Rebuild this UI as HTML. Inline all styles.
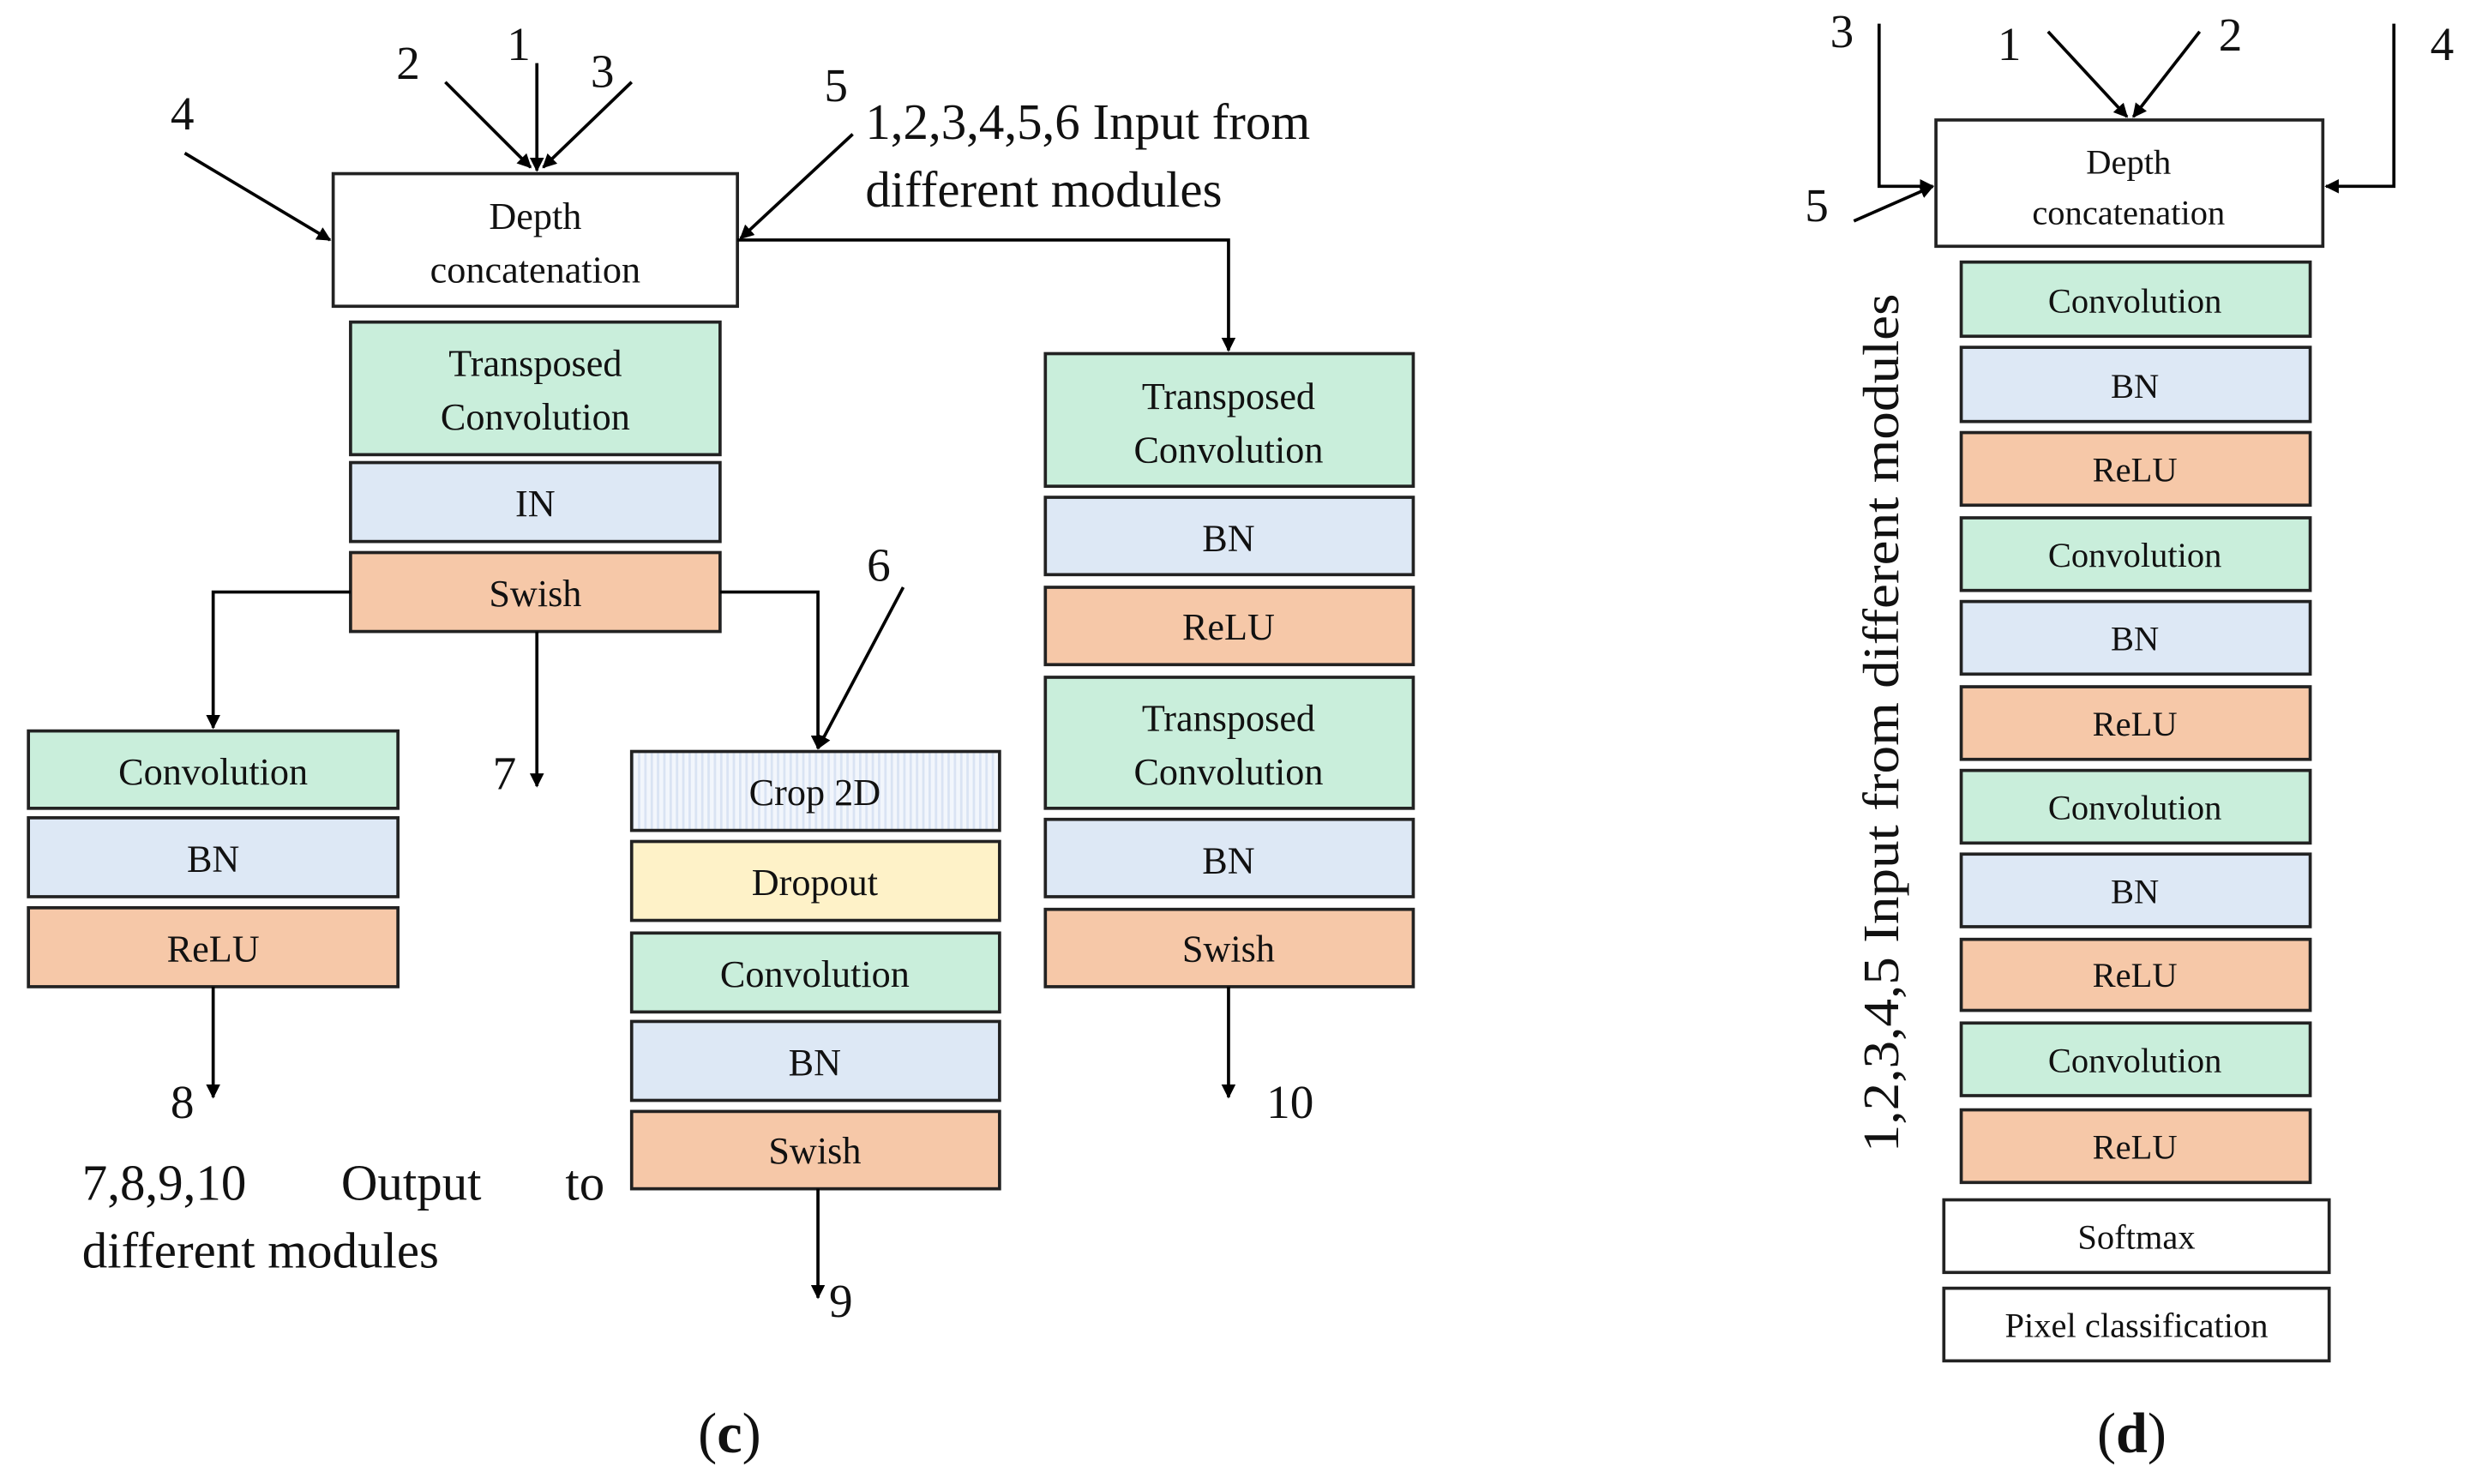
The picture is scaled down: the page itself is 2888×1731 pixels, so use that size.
<!DOCTYPE html>
<html><head><meta charset="utf-8"><style>
html,body{margin:0;padding:0;background:#fff;}
svg{display:block;}
text{font-family:"Liberation Serif","Times New Roman","DejaVu Serif",serif;fill:#111;}
</style></head><body>
<svg width="2888" height="1731" viewBox="0 0 1568 940" preserveAspectRatio="none" xmlns="http://www.w3.org/2000/svg">
<defs>
<marker id="a" viewBox="0 0 10 10" refX="9" refY="5" markerWidth="9" markerHeight="9" markerUnits="userSpaceOnUse" orient="auto"><path d="M0,0 L10,5 L0,10 z" fill="#000"/></marker>
<pattern id="hp" width="4" height="10" patternUnits="userSpaceOnUse"><rect width="4" height="10" fill="#f2f6fc"/><rect width="1.5" height="10" fill="#d9e3f3"/></pattern>
</defs>
<g stroke="#222" stroke-width="2">
<rect x="211" y="110" width="256" height="84" fill="#fff"/>
<rect x="222" y="204" width="234" height="84" fill="#c9eedb"/>
<rect x="222" y="293" width="234" height="50" fill="#dde8f5"/>
<rect x="222" y="350" width="234" height="50" fill="#f6c8a8"/>
<rect x="18" y="463" width="234" height="49" fill="#c9eedb"/>
<rect x="18" y="518" width="234" height="50" fill="#dde8f5"/>
<rect x="18" y="575" width="234" height="50" fill="#f6c8a8"/>
<rect x="400" y="476" width="233" height="50" fill="url(#hp)"/>
<rect x="400" y="533" width="233" height="50" fill="#fef2c8"/>
<rect x="400" y="591" width="233" height="50" fill="#c9eedb"/>
<rect x="400" y="647" width="233" height="50" fill="#dde8f5"/>
<rect x="400" y="704" width="233" height="49" fill="#f6c8a8"/>
<rect x="662" y="224" width="233" height="84" fill="#c9eedb"/>
<rect x="662" y="315" width="233" height="49" fill="#dde8f5"/>
<rect x="662" y="372" width="233" height="49" fill="#f6c8a8"/>
<rect x="662" y="429" width="233" height="83" fill="#c9eedb"/>
<rect x="662" y="519" width="233" height="49" fill="#dde8f5"/>
<rect x="662" y="576" width="233" height="49" fill="#f6c8a8"/>
<rect x="1226" y="76" width="245" height="80" fill="#fff"/>
<rect x="1242" y="166" width="221" height="47" fill="#c9eedb"/>
<rect x="1242" y="220" width="221" height="47" fill="#dde8f5"/>
<rect x="1242" y="274" width="221" height="46" fill="#f6c8a8"/>
<rect x="1242" y="328" width="221" height="46" fill="#c9eedb"/>
<rect x="1242" y="381" width="221" height="46" fill="#dde8f5"/>
<rect x="1242" y="435" width="221" height="46" fill="#f6c8a8"/>
<rect x="1242" y="488" width="221" height="46" fill="#c9eedb"/>
<rect x="1242" y="541" width="221" height="46" fill="#dde8f5"/>
<rect x="1242" y="595" width="221" height="45" fill="#f6c8a8"/>
<rect x="1242" y="648" width="221" height="46" fill="#c9eedb"/>
<rect x="1242" y="703" width="221" height="46" fill="#f6c8a8"/>
<rect x="1231" y="760" width="244" height="46" fill="#fff"/>
<rect x="1231" y="816" width="244" height="46" fill="#fff"/>
</g>
<g stroke="#000" stroke-width="2" fill="none" marker-end="url(#a)">
<path d="M340,40 V108"/>
<path d="M282,52 L336,106"/>
<path d="M400,52 L344,106"/>
<path d="M117,97 L209,152"/>
<path d="M540,85 L469,151"/>
<path d="M467,152 H778 V222"/>
<path d="M222,375 H135 V461"/>
<path d="M340,400 V498"/>
<path d="M456,375 H518 V474"/>
<path d="M572,372 L518,474"/>
<path d="M135,625 V695"/>
<path d="M518,753 V822"/>
<path d="M778,625 V695"/>
<path d="M1297,20 L1347,74"/>
<path d="M1393,20 L1351,74"/>
<path d="M1190,15 V118 H1224"/>
<path d="M1516,15 V118 H1473"/>
<path d="M1174,140 L1224,118"/>
</g>
<g font-size="24" text-anchor="middle" font-family="Liberation Serif, Times New Roman, DejaVu Serif, serif">
<text x="339" y="145">Depth</text><text x="339" y="179">concatenation</text>
<text x="339" y="238">Transposed</text><text x="339" y="272">Convolution</text>
<text x="339" y="327">IN</text>
<text x="339" y="384">Swish</text>
<text x="135" y="497">Convolution</text>
<text x="135" y="552">BN</text>
<text x="135" y="609">ReLU</text>
<text x="516" y="510">Crop  2D</text>
<text x="516" y="567">Dropout</text>
<text x="516" y="625">Convolution</text>
<text x="516" y="681">BN</text>
<text x="516" y="737">Swish</text>
<text x="778" y="259">Transposed</text><text x="778" y="293">Convolution</text>
<text x="778" y="349">BN</text>
<text x="778" y="405">ReLU</text>
<text x="778" y="463">Transposed</text><text x="778" y="497">Convolution</text>
<text x="778" y="553">BN</text>
<text x="778" y="609">Swish</text>
</g>
<g font-size="22" text-anchor="middle" font-family="Liberation Serif, Times New Roman, DejaVu Serif, serif">
<text x="1348" y="110">Depth</text><text x="1348" y="142">concatenation</text>
<text x="1352" y="198">Convolution</text>
<text x="1352" y="252">BN</text>
<text x="1352" y="305">ReLU</text>
<text x="1352" y="359">Convolution</text>
<text x="1352" y="412">BN</text>
<text x="1352" y="466">ReLU</text>
<text x="1352" y="519">Convolution</text>
<text x="1352" y="572">BN</text>
<text x="1352" y="625">ReLU</text>
<text x="1352" y="679">Convolution</text>
<text x="1352" y="734">ReLU</text>
<text x="1353" y="791">Softmax</text>
<text x="1353" y="847">Pixel classification</text>
</g>
<g font-size="30" font-family="Liberation Serif, Times New Roman, DejaVu Serif, serif">
<text x="251" y="50">2</text><text x="321" y="38">1</text><text x="374" y="55">3</text>
<text x="108" y="82">4</text><text x="522" y="64">5</text>
<text x="549" y="368">6</text><text x="312" y="500">7</text><text x="108" y="708">8</text>
<text x="525" y="834">9</text><text x="802" y="708">10</text>
<text x="1159" y="30">3</text><text x="1265" y="38">1</text><text x="1405" y="32">2</text>
<text x="1539" y="38">4</text><text x="1143" y="140">5</text>
</g>
<g font-size="32" font-family="Liberation Serif, Times New Roman, DejaVu Serif, serif">
<text x="548" y="88">1,2,3,4,5,6  Input  from</text>
<text x="548" y="131">different modules</text>
<text x="52" y="760">7,8,9,10</text>
<text x="216" y="760">Output</text>
<text x="358" y="760">to</text>
<text x="52" y="803">different modules</text>
<text transform="translate(1202,730) rotate(-90)" textLength="544" lengthAdjust="spacingAndGlyphs">1,2,3,4,5 Input from  different modules</text>
</g>
<g font-size="36" text-anchor="middle" font-family="Liberation Serif, Times New Roman, DejaVu Serif, serif">
<text x="462" y="920">(<tspan font-weight="bold">c</tspan>)</text>
<text x="1350" y="920">(<tspan font-weight="bold">d</tspan>)</text>
</g>
</svg>
</body></html>
